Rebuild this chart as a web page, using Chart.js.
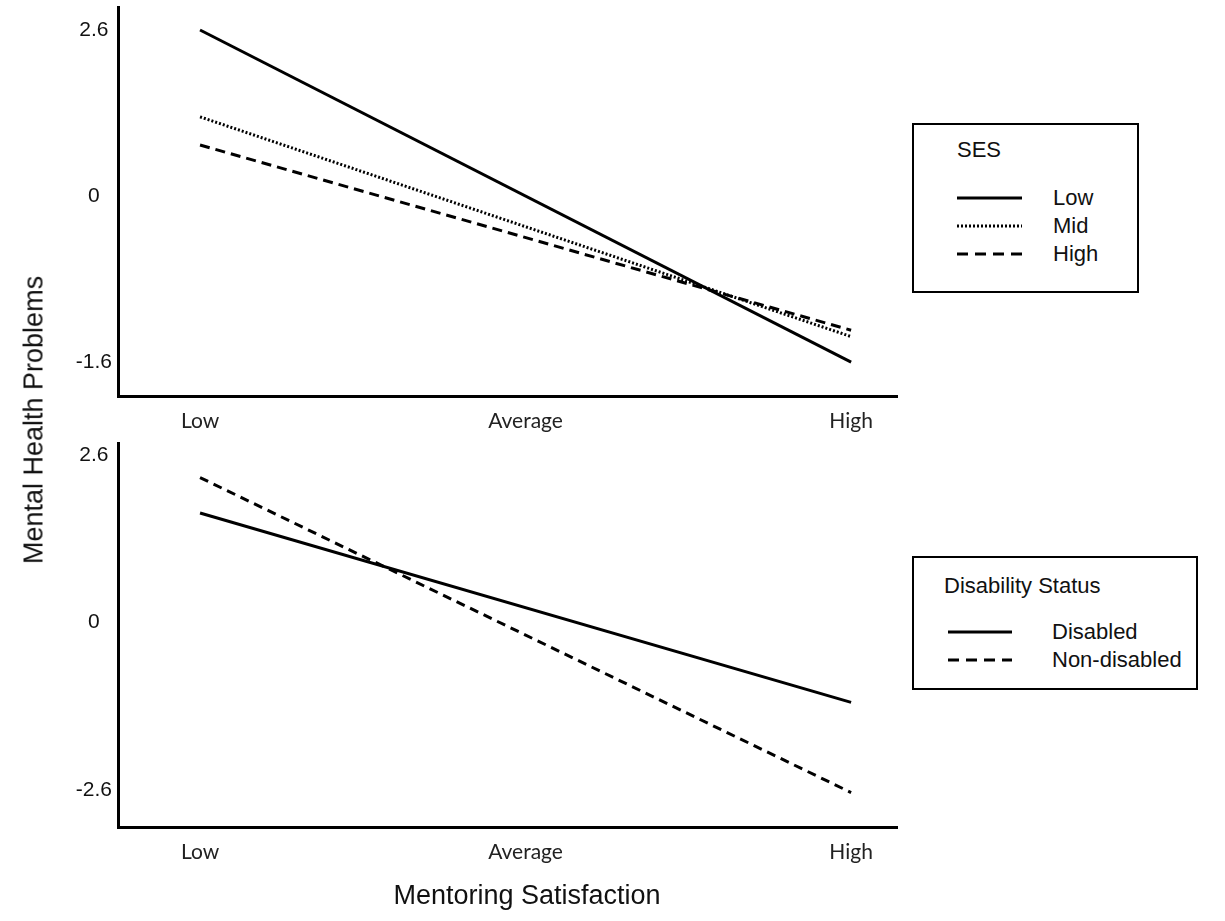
<!DOCTYPE html>
<html>
<head>
<meta charset="utf-8">
<script src="https://cdn.jsdelivr.net/npm/chart.js@4.4.0/dist/chart.umd.min.js"></script>
<style>
  body { margin: 0; width: 1225px; height: 921px; background: #fff; position: relative; overflow: hidden;
         font-family: "Liberation Sans", Arial, sans-serif; }
  .panel { position: absolute; left: 0; width: 910px; height: 440px; }
  .legend { position: absolute; border: 2px solid #000; box-sizing: border-box; background: #fff; }
  .legend .ttl, .legend .lbl { position: absolute; font-size: 22px; line-height: 26px; color: #111; white-space: nowrap; }
  .legend svg { position: absolute; }
  .axis-title { position: absolute; font-size: 27px; color: #111; white-space: nowrap;
                transform: translate(-50%, -50%); }
  #yTitle { transform: translate(-50%, -50%) rotate(-90deg); }
</style>
</head>
<body>
<div class="panel" style="top:0"><canvas id="chartSes"></canvas></div>
<div class="panel" style="top:440px"><canvas id="chartDis"></canvas></div>
<div class="legend" id="legendSes" style="left:912px;top:123px;width:227px;height:170px"></div>
<div class="legend" id="legendDis" style="left:912px;top:556px;width:286px;height:134px"></div>
<div class="axis-title" id="yTitle" style="left:34px;top:420px">Mental Health Problems</div>
<div class="axis-title" id="xTitle" style="left:527px;top:895px">Mentoring Satisfaction</div>

<script>
// x levels of mentoring satisfaction
const xCategories = ["Low", "Average", "High"];
const xTickValues = [-1, 0, 1];
const xEnds = [-1, 1];          // simple slopes are drawn from Low to High

// top panel: SES
const sesLow = [2.6, -2.6];
const sesMid = [1.24, -2.2];
const sesHigh = [0.8, -2.1];
const yTickValuesTop = [2.6, 0, -2.6];
const yTickLabelsTop = ["2.6", "0", "-1.6"];   // as printed in the figure

// bottom panel: disability status
const disabled = [1.7, -1.24];
const nonDisabled = [2.25, -2.64];
const yTickValuesBottom = [2.6, 0, -2.6];
const yTickLabelsBottom = ["2.6", "0", "-2.6"];

function toPoints(values) {
    return xEnds.map((x, i) => ({ x: x, y: values[i] }));
}

function lineSet(label, values, dash) {
    return {
        label: label,
        data: toPoints(values),
        borderColor: "#000",
        borderWidth: 3,
        borderDash: dash,
        borderCapStyle: "butt",
        pointRadius: 0,
        fill: false,
        tension: 0
    };
}

function makeChart(id, datasets, yTicks, yLabels, yMin, yMax, padTop, xAxisHeight) {
    return new Chart(document.getElementById(id), {
        type: "line",
        data: { datasets: datasets },
        options: {
            responsive: true,
            maintainAspectRatio: false,
            animation: false,
            layout: { padding: { top: padTop, right: 13, left: 0, bottom: 0 } },
            plugins: { legend: { display: false }, tooltip: { enabled: false } },
            scales: {
                x: {
                    type: "linear",
                    min: -1.252,
                    max: 1.141,
                    afterBuildTicks: (s) => { s.ticks = xTickValues.map(v => ({ value: v })); },
                    afterFit: (s) => { s.height = xAxisHeight; s.paddingLeft = 0; s.paddingRight = 0; },
                    grid: { display: false, drawTicks: false },
                    border: { display: true, color: "#000", width: 3 },
                    ticks: {
                        padding: 13,
                        color: "#222",
                        maxRotation: 0,
                        autoSkip: false,
                        font: { family: "Lato", size: 21 },
                        callback: (v) => xCategories[xTickValues.indexOf(v)]
                    }
                },
                y: {
                    type: "linear",
                    min: yMin,
                    max: yMax,
                    afterBuildTicks: (s) => { s.ticks = yTicks.map(v => ({ value: v })); },
                    afterFit: (s) => { s.width = 118; s.paddingTop = 0; s.paddingBottom = 0; },
                    grid: { display: false, drawTicks: false },
                    border: { display: true, color: "#000", width: 3 },
                    ticks: {
                        padding: 6,
                        crossAlign: "center",
                        color: "#111",
                        font: { family: "Liberation Sans", size: 21 },
                        callback: (v) => yLabels[yTicks.indexOf(v)]
                    }
                }
            }
        }
    });
}

const chartSes = makeChart("chartSes", [
    lineSet("Low", sesLow, []),
    lineSet("Mid", sesMid, [2, 2]),
    lineSet("High", sesHigh, [10, 6])
], yTickValuesTop, yTickLabelsTop, -3.13, 2.96, 7, 44);

const chartDis = makeChart("chartDis", [
    lineSet("Disabled", disabled, []),
    lineSet("Non-disabled", nonDisabled, [9, 6])
], yTickValuesBottom, yTickLabelsBottom, -3.175, 2.786, 3, 53);

// ====== html legend built from the chart datasets ======
function buildLegend(el, title, chart, lay) {
    const t = document.createElement("div");
    t.className = "ttl";
    t.textContent = title;
    t.style.left = lay.titleX + "px";
    t.style.top = (lay.titleY - 13) + "px";
    el.appendChild(t);

    chart.data.datasets.forEach((ds, i) => {
        const y = lay.rows[i];
        const dash = ds.label === "Mid" ? "2 2" : (ds.borderDash.length ? "11 7" : "none");
        const svg = document.createElementNS("http://www.w3.org/2000/svg", "svg");
        svg.setAttribute("width", lay.lineW);
        svg.setAttribute("height", 6);
        svg.style.left = lay.lineX + "px";
        svg.style.top = (y - 3) + "px";
        svg.innerHTML = `<line x1="0" y1="3" x2="${lay.lineW}" y2="3" stroke="#000" stroke-width="3" stroke-dasharray="${dash}"/>`;
        el.appendChild(svg);

        const lbl = document.createElement("div");
        lbl.className = "lbl";
        lbl.textContent = ds.label;
        lbl.style.left = lay.textX + "px";
        lbl.style.top = (y - 13) + "px";
        el.appendChild(lbl);
    });
}

buildLegend(document.getElementById("legendSes"), "SES", chartSes,
    { titleX: 43, titleY: 25, lineX: 43, lineW: 65, textX: 139, rows: [73, 101, 129] });
buildLegend(document.getElementById("legendDis"), "Disability Status", chartDis,
    { titleX: 30, titleY: 28, lineX: 34, lineW: 64, textX: 138, rows: [74, 102] });
</script>
</body>
</html>
